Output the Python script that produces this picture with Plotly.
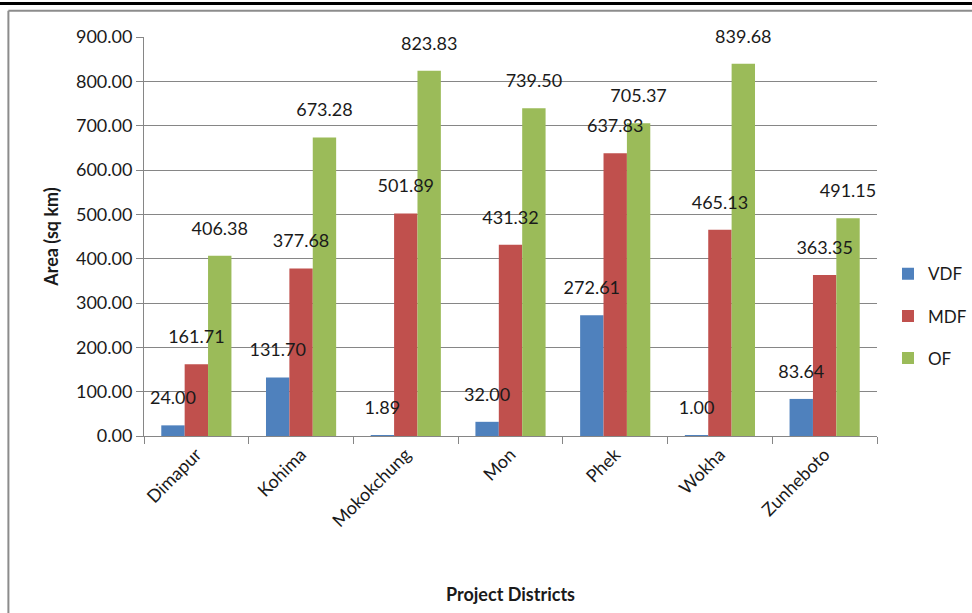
import plotly.graph_objects as go

districts = ["Dimapur", "Kohima", "Mokokchung", "Mon", "Phek", "Wokha", "Zunheboto"]
vdf = [24.00, 131.70, 1.89, 32.00, 272.61, 1.00, 83.64]
mdf = [161.71, 377.68, 501.89, 431.32, 637.83, 465.13, 363.35]
of_ = [406.38, 673.28, 823.83, 739.50, 705.37, 839.68, 491.15]
y_ticks = [0, 100, 200, 300, 400, 500, 600, 700, 800, 900]

FONT = "Lato"
series = [("VDF", vdf, "#4F81BD"), ("MDF", mdf, "#C0504D"), ("OF", of_, "#9BBB59")]

fig = go.Figure()
for name, vals, col in series:
    fig.add_trace(go.Bar(
        x=districts, y=vals, name=name, marker_color=col, marker_line_width=0,
        offsetgroup=name, legendgroup=name,
    ))
# data labels drawn on top of all bars
for name, vals, col in series:
    fig.add_trace(go.Scatter(
        x=districts, y=vals, mode="markers+text", offsetgroup=name,
        marker=dict(size=25, color="rgba(0,0,0,0)"),
        text=[f"{v:.2f}" for v in vals], textposition="top center",
        textfont=dict(family=FONT, size=18, color="#1a1a1a"),
        showlegend=False, hoverinfo="skip", cliponaxis=False,
    ))

# decorative frame (paper coordinates)
shapes = [
    dict(type="line", xref="paper", yref="paper", x0=-0.25, x1=1.25, y0=1.084, y1=1.084,
         line=dict(color="black", width=3)),
    dict(type="line", xref="paper", yref="paper", x0=-0.185, x1=1.25, y0=1.066, y1=1.066,
         line=dict(color="#8c8c8c", width=2)),
    dict(type="line", xref="paper", yref="paper", x0=-0.185, x1=-0.185, y0=1.066, y1=-0.5,
         line=dict(color="#8c8c8c", width=2)),
]

fig.update_layout(
    width=972, height=613,
    margin=dict(l=144, r=95, t=37, b=177, autoexpand=False),
    paper_bgcolor="white", plot_bgcolor="white",
    barmode="group", bargap=0.33, bargroupgap=0,
    scattermode="group", scattergap=0.33,
    font=dict(family=FONT, size=18, color="#1a1a1a"),
    showlegend=True,
    legend=dict(x=1.015, y=0.30, xanchor="left", yanchor="middle",
                font=dict(family=FONT, size=17), itemwidth=30, tracegroupgap=17,
                bgcolor="rgba(0,0,0,0)"),
    shapes=shapes,
    xaxis=dict(
        tickangle=-45, tickfont=dict(family=FONT, size=18),
        showline=True, linecolor="#868686", linewidth=1,
        ticks="outside", ticklen=7, tickcolor="#868686", tickson="boundaries",
        showgrid=False,
        title=dict(text="<b>Project Districts</b>", font=dict(family=FONT, size=18), standoff=58),
    ),
    yaxis=dict(
        range=[0, 900], tickvals=y_ticks, ticktext=[f"{v:.2f}" for v in y_ticks],
        tickfont=dict(family=FONT, size=18),
        showline=True, linecolor="#868686", linewidth=1,
        ticks="outside", ticklen=7, tickcolor="#868686",
        showgrid=True, gridcolor="#868686", gridwidth=1, zeroline=False,
        title=dict(text="<b>Area (sq km)</b>", font=dict(family=FONT, size=18), standoff=12),
    ),
)

fig.write_html("out.html")
